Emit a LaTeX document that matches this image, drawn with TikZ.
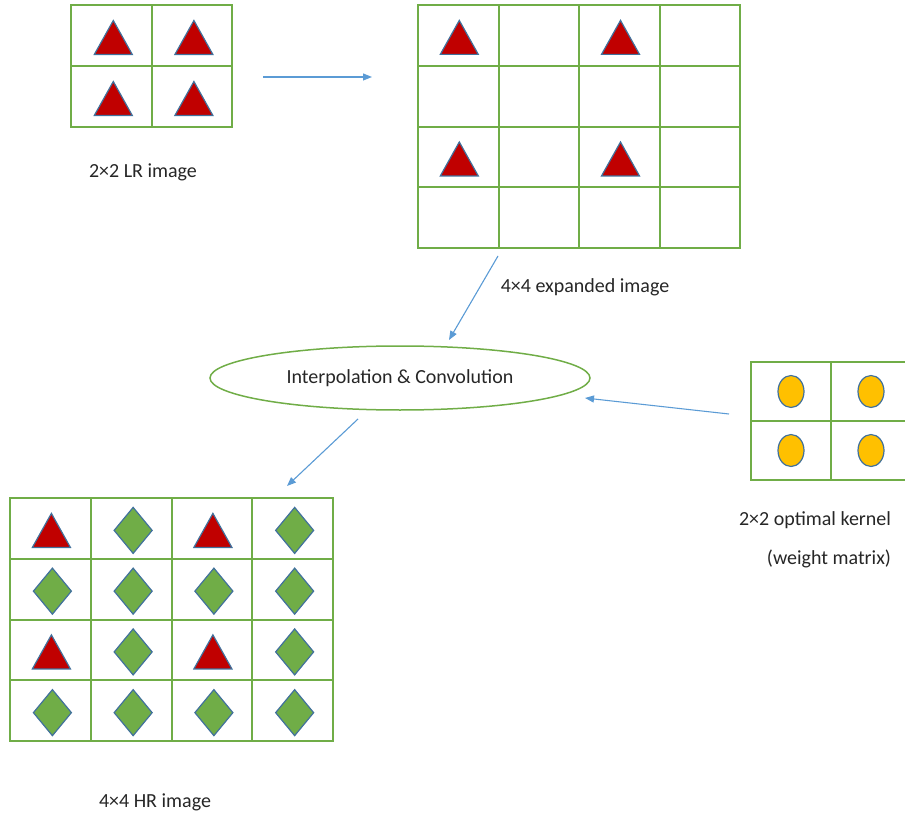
\documentclass[tikz,border=0pt]{standalone}
\usepackage{fontspec}
\setmainfont{Carlito}
\definecolor{gridgreen}{RGB}{112, 173, 71}
\definecolor{trired}{RGB}{192, 0, 0}
\definecolor{edgeblue}{RGB}{65, 113, 156}
\definecolor{kernelgold}{RGB}{255, 192, 0}
\definecolor{arrowblue}{RGB}{91, 155, 213}
\usetikzlibrary{arrows.meta, positioning, shapes.geometric}

\tikzset{
  redtri/.pic={\filldraw[fill=trired, draw=edgeblue, line width=1.2pt] (-19,17) -- (19,17) -- (0,-17) -- cycle;},
  greendia/.pic={\filldraw[fill=gridgreen, draw=edgeblue, line width=1.2pt] (0,-23) -- (19,0) -- (0,23) -- (-19,0) -- cycle;},
  golddot/.pic={\filldraw[fill=kernelgold, draw=edgeblue, line width=1.2pt] (0,0) ellipse [x radius=13, y radius=16];}
}

\begin{document}
\begin{tikzpicture}[x=1pt, y=-1pt,
    cell/.style={draw=gridgreen, line width=2pt, inner sep=0pt, outer sep=0pt, minimum width=80.6pt, minimum height=60.8pt},
    caption/.style={font=\fontsize{20}{24}\selectfont, text=black!85, inner sep=0pt},
    flow/.style={draw=arrowblue, line width=1.1pt, -{Triangle[length=9pt, width=7pt]}}]
  \useasboundingbox (0,0) rectangle (905,813);

  % 2x2 low resolution input
  \foreach \r in {0,1}
    \foreach \c in {0,1}
      \node[cell, minimum height=61pt] (lr-\r-\c) at ({71+40.3+80.6*\c},{5+30.5+61*\r}) {};
  \foreach \r in {0,1}
    \foreach \c in {0,1}
      \pic at ([shift={(2,2)}]lr-\r-\c.center) {redtri};
  \node[caption] (lr-label) at (143,172) {2×2 LR image};

  % 4x4 expanded image
  \foreach \r in {0,...,3}
    \foreach \c in {0,...,3}
      \node[cell] (ex-\r-\c) at ({418+40.3+80.6*\c},{5+30.4+60.8*\r}) {};
  \foreach \r in {0,2}
    \foreach \c in {0,2}
      \pic at ([shift={(1,2)}]ex-\r-\c.center) {redtri};
  \node[caption] (ex-label) at (585,287) {4×4 expanded image};

  % interpolation step
  \node[draw=gridgreen, line width=1.5pt, ellipse, minimum width=380pt, minimum height=64pt, inner sep=0pt,
        font=\fontsize{20}{24}\selectfont, text=black!85] (interp) at (400,378) {Interpolation \& Convolution};

  % 2x2 kernel
  \foreach \r in {0,1}
    \foreach \c in {0,1}
      \node[cell, minimum width=80pt, minimum height=59pt] (ker-\r-\c) at ({751+40+80*\c},{362+29.5+59*\r}) {};
  \foreach \r in {0,1}
    \foreach \c in {0,1}
      \pic at (ker-\r-\c.center) {golddot};
  \node[caption] (ker-label) at (815,520) {2×2 optimal kernel};
  \node[caption] (ker-note) at (829,559) {(weight matrix)};

  % 4x4 high resolution output
  \foreach \r in {0,...,3}
    \foreach \c in {0,...,3}
      \node[cell, minimum width=80.75pt, minimum height=60.75pt] (hr-\r-\c) at ({10+40.4+80.75*\c},{498+30.4+60.75*\r}) {};
  \foreach \r in {0,...,3}
    \foreach \c in {0,...,3} {
      \pgfmathtruncatemacro{\odd}{mod(\r,2)+mod(\c,2)}
      \ifnum\odd=0
        \pic at ([shift={(1,2)}]hr-\r-\c.center) {redtri};
      \else
        \pic at ([shift={(2,2)}]hr-\r-\c.center) {greendia};
      \fi
    }
  \node[caption] (hr-label) at (155,802) {4×4 HR image};

  % arrows
  \coordinate (lr-out) at (263,77);
  \coordinate (ex-in) at (372,77);
  \coordinate (ex-out) at (498,256);
  \coordinate (interp-in) at (449,340);
  \coordinate (ker-out) at (729,414);
  \coordinate (interp-side) at (585,398);
  \coordinate (interp-out) at (358,419);
  \coordinate (hr-in) at (287,486);
  \draw[flow] (lr-out) -- (ex-in);
  \draw[flow] (ex-out) -- (interp-in);
  \draw[flow] (ker-out) -- (interp-side);
  \draw[flow] (interp-out) -- (hr-in);
\end{tikzpicture}
\end{document}
